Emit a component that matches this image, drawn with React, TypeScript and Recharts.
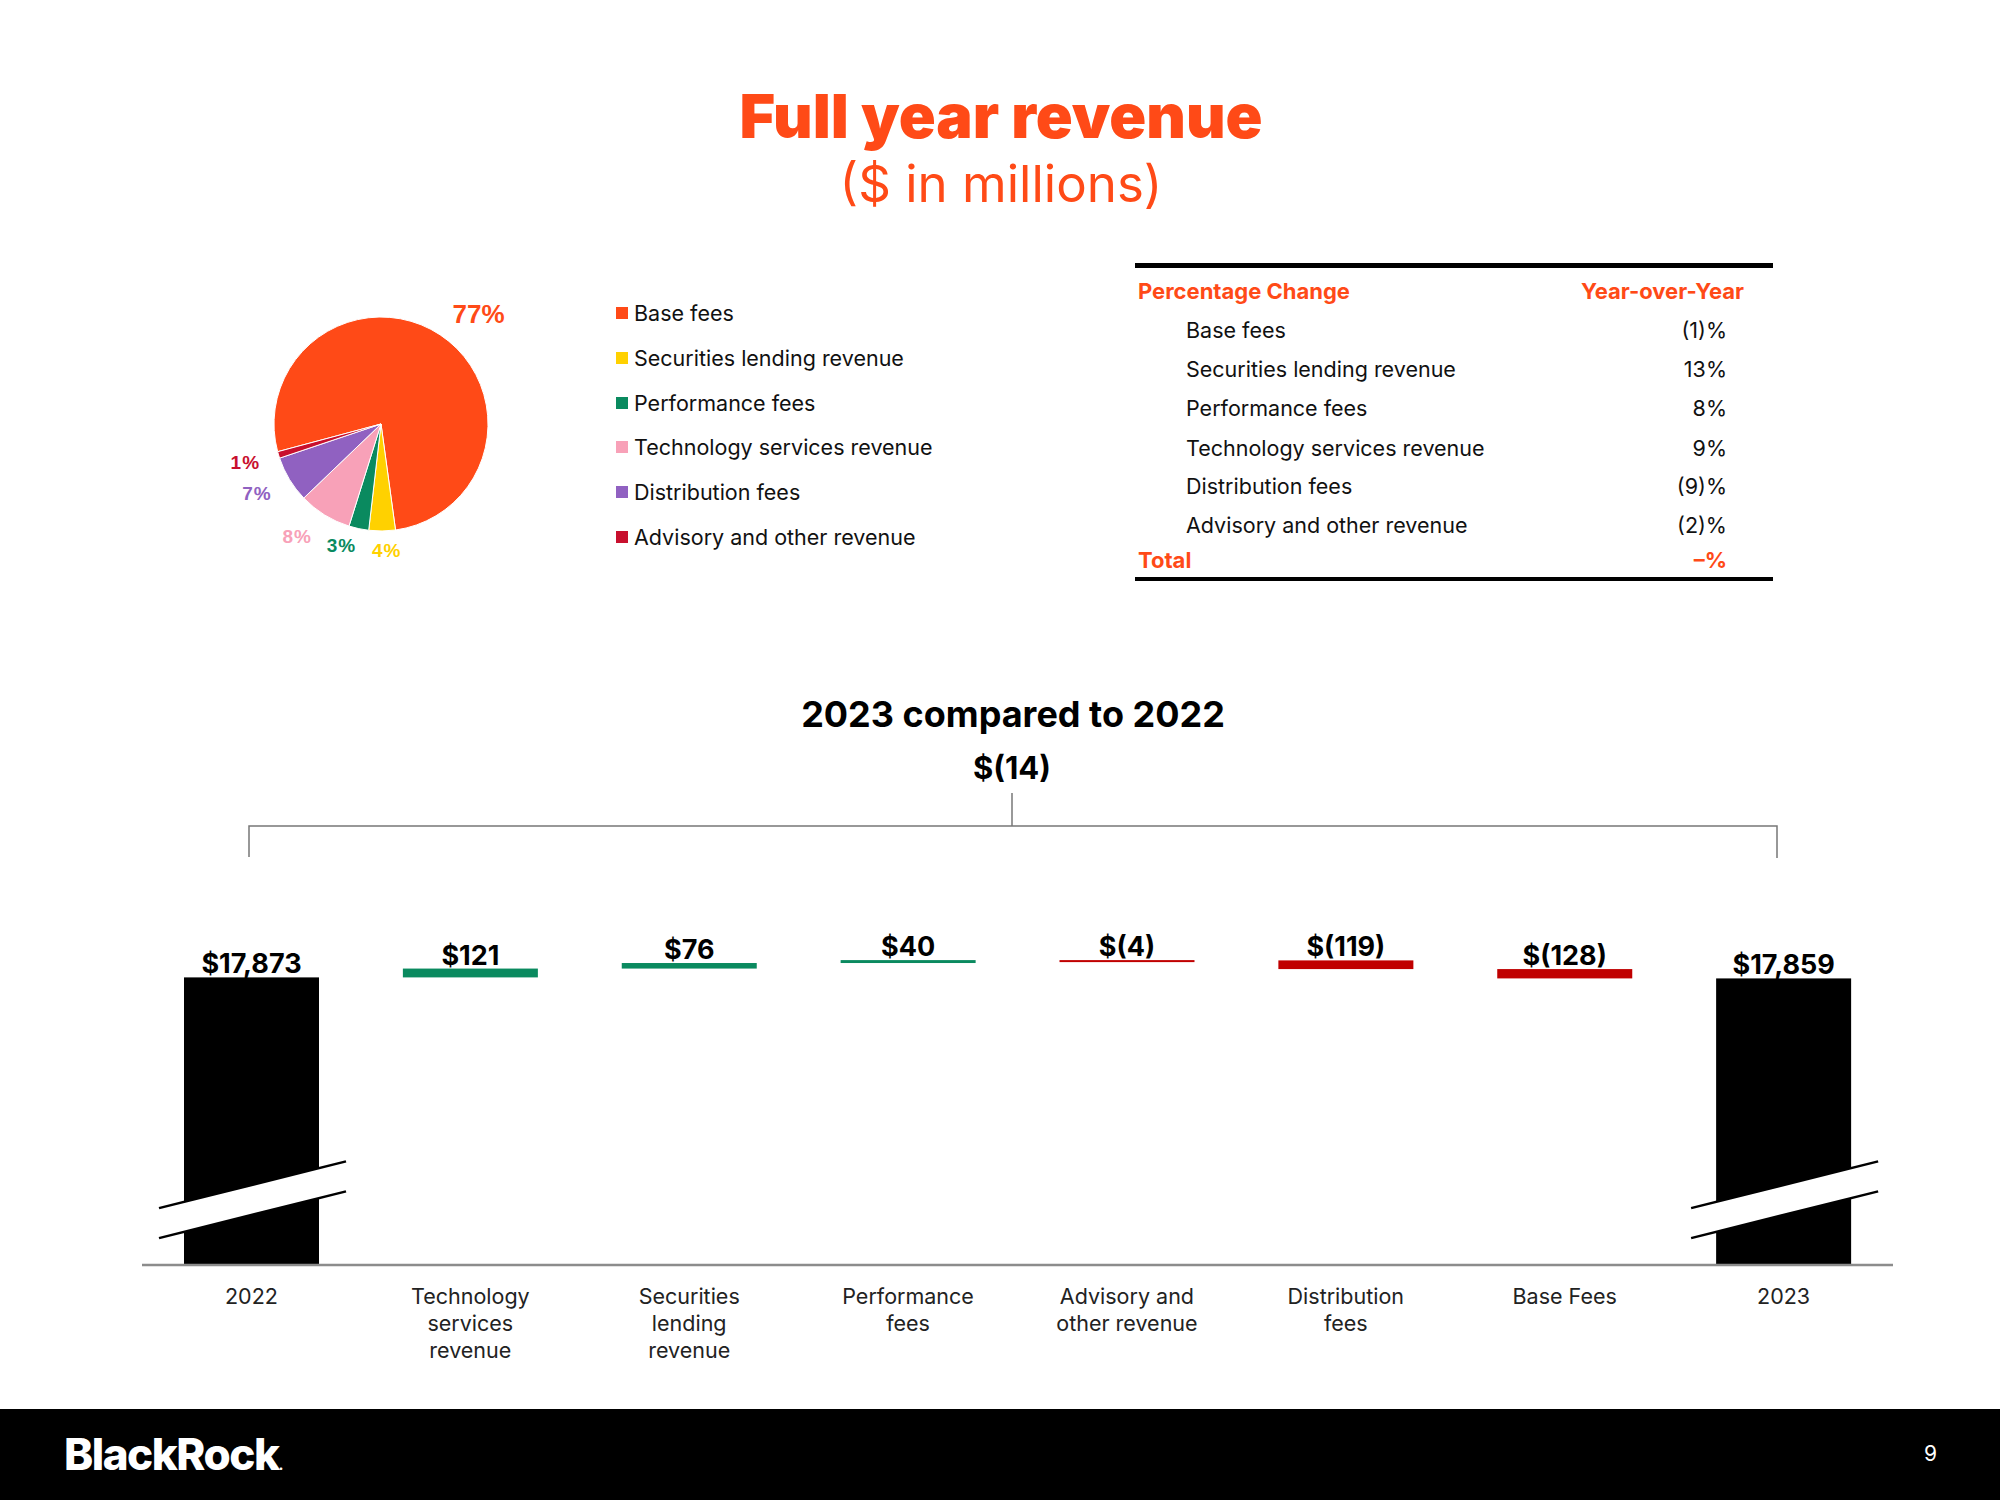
import React from 'react';
import { PieChart, Pie, Cell, BarChart, Bar, XAxis, YAxis, LabelList } from 'recharts';

// revenue mix (pie + legend)
const mixNames = [
  'Base fees',
  'Securities lending revenue',
  'Performance fees',
  'Technology services revenue',
  'Distribution fees',
  'Advisory and other revenue',
];
const mixShares = [77, 4, 3, 8, 7, 1];
const mixColors = ['#FF4A17', '#FFD100', '#0A8A5F', '#F8A1B8', '#9061C1', '#C8102E'];

// year-over-year table
const yoyValues = ['(1)%', '13%', '8%', '9%', '(9)%', '(2)%'];
const yoyTotal = '–%';

// waterfall
const startYear = '2022';
const endYear = '2023';
const startRevenue = 17873;
const endRevenue = 17859;
const driverNames = [
  'Technology\nservices\nrevenue',
  'Securities\nlending\nrevenue',
  'Performance\nfees',
  'Advisory and\nother revenue',
  'Distribution\nfees',
  'Base Fees',
];
const driverChanges = [121, 76, 40, -4, -119, -128];

const ORANGE = '#FF4A17';
const FONT = 'Inter, "Noto Sans", sans-serif';
const kindColors: Record<string, string> = { total: '#000000', up: '#0A8A5F', down: '#C00000' };

const fmt = (v: number) =>
  v < 0 ? `$(${Math.abs(v).toLocaleString('en-US')})` : `$${v.toLocaleString('en-US')}`;

const waterfall: any[] = [{ name: startYear, range: [0, startRevenue], label: fmt(startRevenue), kind: 'total' }];
let running = startRevenue;
driverChanges.forEach((c, i) => {
  const next = running + c;
  waterfall.push({
    name: driverNames[i],
    range: [Math.min(running, next), Math.max(running, next)],
    label: fmt(c),
    kind: c >= 0 ? 'up' : 'down',
  });
  running = next;
});
waterfall.push({ name: endYear, range: [0, endRevenue], label: fmt(endRevenue), kind: 'total' });

const pieData = mixNames.map((name, i) => ({ name, value: mixShares[i] }));

// label placement tweaks per slice: [angle shift in degrees, distance outside the rim]
const labelNudge = [
  [-8, 40],
  [2, 20],
  [-6, 21],
  [-5, 33],
  [-2, 35],
  [-1, 34],
];

const RAD = Math.PI / 180;
const renderPieLabel = (p: any) => {
  const { cx, cy, midAngle, outerRadius, index } = p;
  const [da, dr] = labelNudge[index];
  const a = (midAngle + da) * RAD;
  const r = outerRadius + dr;
  return (
    <text
      x={cx + r * Math.cos(a)}
      y={cy - r * Math.sin(a)}
      textAnchor="middle"
      dominantBaseline="central"
      fill={mixColors[index]}
      fontFamily='"Liberation Sans", Arial, sans-serif'
      fontWeight={700}
      fontSize={index === 0 ? 26 : 19}
      letterSpacing={index === 0 ? 0 : 1}
    >
      {`${mixShares[index]}%`}
    </text>
  );
};

const CategoryTick = (p: any) => {
  const { x, y, payload } = p;
  const lines = String(payload.value).split('\n');
  return (
    <text x={x} y={y + 37} textAnchor="middle" fill="#222" fontSize={21.5} fontFamily={FONT}>
      {lines.map((l, i) => (
        <tspan key={i} x={x} dy={i === 0 ? 0 : 27}>
          {l}
        </tspan>
      ))}
    </text>
  );
};

const WaterfallShape = (p: any) => {
  const { x, y, width, height, payload, background } = p;
  const fill = kindColors[payload.kind];
  const plotBottom = background ? background.y + background.height : y + height;
  const h = Math.max(Math.min(y + height, plotBottom) - y, 2);
  if (payload.kind !== 'total') {
    return <rect x={x} y={y} width={width} height={h} fill={fill} />;
  }
  // axis break drawn across the totals
  const mid = x + width / 2;
  const yc = plotBottom - 65;
  const slope = -0.25;
  const half = 15;
  const xl = x - 25;
  const xr = x + width + 27;
  const yAt = (xx: number, off: number) => yc + off + slope * (xx - mid);
  return (
    <g>
      <rect x={x} y={y} width={width} height={h} fill={fill} />
      <polygon
        points={`${xl},${yAt(xl, -half)} ${xr},${yAt(xr, -half)} ${xr},${yAt(xr, half)} ${xl},${yAt(xl, half)}`}
        fill="#fff"
      />
      <line x1={xl} y1={yAt(xl, -half)} x2={xr} y2={yAt(xr, -half)} stroke="#000" strokeWidth={2.5} />
      <line x1={xl} y1={yAt(xl, half)} x2={xr} y2={yAt(xr, half)} stroke="#000" strokeWidth={2.5} />
    </g>
  );
};

const abs = (left: number, top: number, extra: React.CSSProperties = {}): React.CSSProperties => ({
  position: 'absolute',
  left,
  top,
  ...extra,
});

export default function App() {
  const tableRowTops = [330, 369, 408, 448, 486, 525];
  return (
    <div
      style={{
        position: 'absolute',
        left: 0,
        top: 0,
        width: 2000,
        height: 1500,
        background: '#fff',
        overflow: 'hidden',
        fontFamily: FONT,
        color: '#111',
      }}
    >
      {/* titles */}
      <div style={abs(0, 86, { width: 2002, textAlign: 'center', fontSize: 61, lineHeight: '60px', fontWeight: 900, color: ORANGE })}>
        Full year revenue
      </div>
      <div style={abs(0, 157, { width: 2002, textAlign: 'center', fontSize: 51, lineHeight: '54px', color: ORANGE })}>
        ($ in millions)
      </div>

      {/* pie */}
      <div style={abs(176, 219)}>
        <PieChart width={400} height={400}>
          <Pie
            data={pieData}
            dataKey="value"
            nameKey="name"
            cx={200}
            cy={200}
            outerRadius={107}
            startAngle={195}
            endAngle={-165}
            stroke="#fff"
            strokeWidth={1}
            label={renderPieLabel}
            labelLine={false}
            isAnimationActive={false}
          >
            {pieData.map((_, i) => (
              <Cell key={i} fill={mixColors[i]} />
            ))}
          </Pie>
        </PieChart>
      </div>

      {/* legend */}
      {mixNames.map((n, i) => (
        <div
          key={n}
          style={abs(616, 300 + i * 44.8, { height: 26, display: 'flex', alignItems: 'center', fontSize: 21.5 })}
        >
          <span style={{ width: 12, height: 12, background: mixColors[i], marginRight: 6, display: 'inline-block' }} />
          {n}
        </div>
      ))}

      {/* yoy table */}
      <div style={abs(1135, 263, { width: 638, height: 5, background: '#000' })} />
      <div style={abs(1138, 277, { fontSize: 22, lineHeight: '28px', fontWeight: 700, color: ORANGE })}>
        Percentage Change
      </div>
      <div style={abs(1544, 277, { width: 200, textAlign: 'right', fontSize: 22, lineHeight: '28px', fontWeight: 700, color: ORANGE })}>
        Year-over-Year
      </div>
      {mixNames.map((n, i) => (
        <React.Fragment key={n}>
          <div style={abs(1186, tableRowTops[i] - 14, { fontSize: 21.5, lineHeight: '28px' })}>{n}</div>
          <div style={abs(1527, tableRowTops[i] - 14, { width: 200, textAlign: 'right', fontSize: 21.5, lineHeight: '28px' })}>
            {yoyValues[i]}
          </div>
        </React.Fragment>
      ))}
      <div style={abs(1138, 546, { fontSize: 22, lineHeight: '28px', fontWeight: 700, color: ORANGE })}>Total</div>
      <div style={abs(1527, 546, { width: 200, textAlign: 'right', fontSize: 22, lineHeight: '28px', fontWeight: 700, color: ORANGE })}>
        {yoyTotal}
      </div>
      <div style={abs(1135, 577, { width: 638, height: 4, background: '#000' })} />

      {/* waterfall heading + bracket */}
      <div style={abs(0, 693, { width: 2026, textAlign: 'center', fontSize: 36, lineHeight: '42px', fontWeight: 700, color: '#000' })}>
        2023 compared to 2022
      </div>
      <div style={abs(0, 750, { width: 2024, textAlign: 'center', fontSize: 31, lineHeight: '36px', fontWeight: 700, color: '#000' })}>
        {fmt(endRevenue - startRevenue)}
      </div>
      <svg style={abs(0, 0)} width={2000} height={1500} pointerEvents="none">
        <g stroke="#777" strokeWidth={1.5} fill="none">
          <polyline points="249,857 249,826 1777,826 1777,858" />
          <line x1={1012} y1={793} x2={1012} y2={826} />
        </g>
      </svg>

      <div style={abs(0, 780)}>
        <BarChart
          width={2000}
          height={600}
          data={waterfall}
          margin={{ top: 113, right: 107, bottom: 0, left: 142 }}
        >
          <XAxis
            dataKey="name"
            interval={0}
            height={115}
            tickLine={false}
            tickSize={0}
            tick={CategoryTick}
            axisLine={{ stroke: '#8c8c8c', strokeWidth: 2.5 }}
          />
          <YAxis hide domain={[13930, 19030]} allowDataOverflow />
          <Bar dataKey="range" barSize={135} shape={WaterfallShape} isAnimationActive={false}>
            <LabelList
              dataKey="label"
              position="top"
              offset={4}
              fill="#000"
              fontSize={27}
              fontWeight={700}
              fontFamily={FONT}
            />
          </Bar>
        </BarChart>
      </div>

      {/* footer */}
      <div style={abs(0, 1409, { width: 2000, height: 91, background: '#000' })} />
      <div style={abs(64, 1428, { fontSize: 44, lineHeight: '52px', fontWeight: 800, color: '#fff', letterSpacing: -1.5 })}>
        BlackRock<span style={{ fontSize: 14 }}>.</span>
      </div>
      <div style={abs(1900, 1440, { width: 37, textAlign: 'right', fontSize: 21, lineHeight: '28px', color: '#fff' })}>9</div>
    </div>
  );
}
